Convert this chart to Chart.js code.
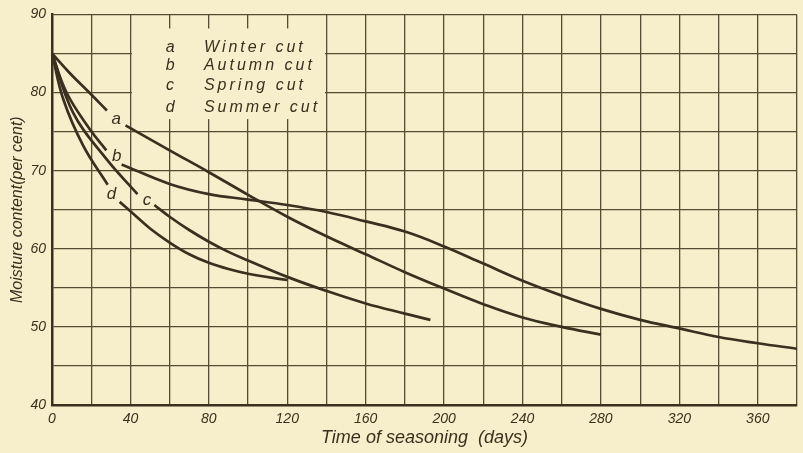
<!DOCTYPE html>
<html>
<head>
<meta charset="utf-8">
<script src="https://cdn.jsdelivr.net/npm/chart.js@4.4.1/dist/chart.umd.min.js"></script>
<style>
  body { margin: 0; background: #f7eecb; }
</style>
</head>
<body>
<canvas id="moistureChart" width="803" height="453"></canvas>
<script>
// null = break in the curve where the letter sits
let winterDays = [0, 9, 19, 28, 33, 37.5, 60, 80, 100, 120, 140, 160, 180, 200, 220, 240, 260, 280];
let winterMoisture = [85, 82.5, 80, 77.7, null, 75.8, 72.6, 69.8, 66.9, 64.1, 61.6, 59.3, 57.0, 54.9, 52.9, 51.2, 50.0, 49.0];

let autumnDays = [0, 7.4, 19.3, 27.7, 31, 35.5, 60, 80, 100, 120, 140, 160, 180, 200, 220, 240, 260, 280, 300, 320, 340, 360, 380];
let autumnMoisture = [85, 80, 75.3, 72.6, null, 70.8, 68.3, 67.0, 66.3, 65.6, 64.7, 63.5, 62.2, 60.3, 58.1, 55.9, 54.0, 52.3, 50.9, 49.8, 48.7, 47.9, 47.2];

let springDays = [0, 10.8, 27.7, 43.6, 48, 52.2, 60, 70, 80, 90, 100, 120, 140, 160, 180, 193];
let springMoisture = [85, 77.4, 71.5, 67.0, null, 65.6, 64.1, 62.4, 60.9, 59.6, 58.5, 56.4, 54.6, 53.0, 51.7, 50.9];

let summerDays = [0, 5.8, 15.9, 28.4, 31, 34.5, 40, 50, 60, 70, 80, 90, 100, 120];
let summerMoisture = [85, 79.1, 73.2, 68.2, null, 66.0, 64.8, 62.6, 60.8, 59.3, 58.2, 57.4, 56.8, 56.0];

let seriesNames = ["Winter cut", "Autumn cut", "Spring cut", "Summer cut"];
let seriesLetters = ["a", "b", "c", "d"];

// where the letters sit on the curves (days, moisture)
let letterDays = [32.8, 33, 48.5, 30.3];
let letterMoisture = [76.6, 71.8, 66.2, 67.0];

let xTicks = [0, 40, 80, 120, 160, 200, 240, 280, 320, 360];
let yTicks = [40, 50, 60, 70, 80, 90];

let ink = "#3a301f";
let gridInk = "#574b33";
let paper = "#f7eecb";
let handFont = "'Liberation Sans', 'DejaVu Sans', sans-serif";

function toPoints(days, vals) {
    return days.map((d, i) => ({x: d, y: vals[i]}));
}

let allDays = [winterDays, autumnDays, springDays, summerDays];
let allVals = [winterMoisture, autumnMoisture, springMoisture, summerMoisture];

let datasets = allDays.map((d, i) => ({
    label: seriesNames[i],
    data: toPoints(d, allVals[i]),
    borderColor: ink,
    borderWidth: 2.7,
    pointRadius: 0,
    spanGaps: false,
    tension: 0.4,
    fill: false
}));

let paperPlugin = {
    id: "paper",
    beforeDraw(chart) {
        let ctx = chart.ctx;
        ctx.save();
        ctx.fillStyle = paper;
        ctx.fillRect(0, 0, chart.width, chart.height);
        ctx.restore();
    },
    beforeDatasetsDraw(chart) {
        let ctx = chart.ctx;
        let xs = chart.scales.x, ys = chart.scales.y;
        ctx.save();
        // blank patch of the grid behind the key
        let left = xs.getPixelForValue(40) + 1.5;
        let right = xs.getPixelForValue(140) - 1.5;
        let top = ys.getPixelForValue(88.2);
        let bottom = ys.getPixelForValue(76.6);
        ctx.fillStyle = paper;
        ctx.fillRect(left, top, right - left, bottom - top);

        ctx.fillStyle = ink;
        ctx.font = "italic 16px " + handFont;
        ctx.textBaseline = "middle";
        ctx.letterSpacing = "3px";
        let rows = [85.7, 83.4, 80.9, 78.1];
        seriesNames.forEach((name, i) => {
            let py = ys.getPixelForValue(rows[i]);
            ctx.textAlign = "center";
            ctx.fillText(seriesLetters[i], xs.getPixelForValue(61), py);
            ctx.textAlign = "left";
            ctx.fillText(name, xs.getPixelForValue(77.5), py);
        });
        ctx.restore();
    },
    afterDatasetsDraw(chart) {
        let ctx = chart.ctx;
        let xs = chart.scales.x, ys = chart.scales.y;
        ctx.save();
        ctx.fillStyle = ink;
        ctx.font = "italic 17px " + handFont;
        ctx.textAlign = "center";
        ctx.textBaseline = "middle";
        seriesLetters.forEach((l, i) => {
            ctx.fillText(l, xs.getPixelForValue(letterDays[i]), ys.getPixelForValue(letterMoisture[i]));
        });
        ctx.restore();
    }
};

new Chart("moistureChart", {
    type: "line",
    data: {datasets: datasets},
    plugins: [paperPlugin],
    options: {
        responsive: false,
        animation: false,
        layout: {padding: {top: 11, right: 3, left: 0, bottom: 0}},
        plugins: {
            legend: {display: false},
            tooltip: {enabled: false}
        },
        scales: {
            x: {
                type: "linear",
                min: 0,
                max: 380,
                afterFit(scale) { scale.height = 48; },
                afterBuildTicks(scale) {
                    let t = [];
                    for (let v = 0; v <= 380; v += 20) t.push({value: v});
                    scale.ticks = t;
                },
                grid: {color: gridInk, lineWidth: 1.3, drawTicks: false},
                border: {color: ink, width: 2.5},
                ticks: {
                    color: ink,
                    font: {family: handFont, style: "italic", size: 14},
                    padding: 6,
                    maxRotation: 0,
                    autoSkip: false,
                    callback: v => xTicks.includes(v) ? v : ""
                },
                title: {
                    display: true,
                    text: "Time of seasoning  (days)",
                    color: ink,
                    font: {family: handFont, style: "italic", size: 18},
                    padding: {top: 0, bottom: 4}
                }
            },
            y: {
                min: 40,
                max: 90,
                afterFit(scale) { scale.width = 52; },
                grid: {color: gridInk, lineWidth: 1.3, drawTicks: false},
                border: {color: ink, width: 2.5},
                ticks: {
                    stepSize: 5,
                    color: ink,
                    font: {family: handFont, style: "italic", size: 14},
                    padding: 6,
                    autoSkip: false,
                    callback: v => yTicks.includes(v) ? v : ""
                },
                title: {
                    display: true,
                    text: "Moisture content(per cent)",
                    color: ink,
                    font: {family: handFont, style: "italic", size: 16},
                    padding: {top: 8, bottom: 0}
                }
            }
        }
    }
});
</script>
</body>
</html>
